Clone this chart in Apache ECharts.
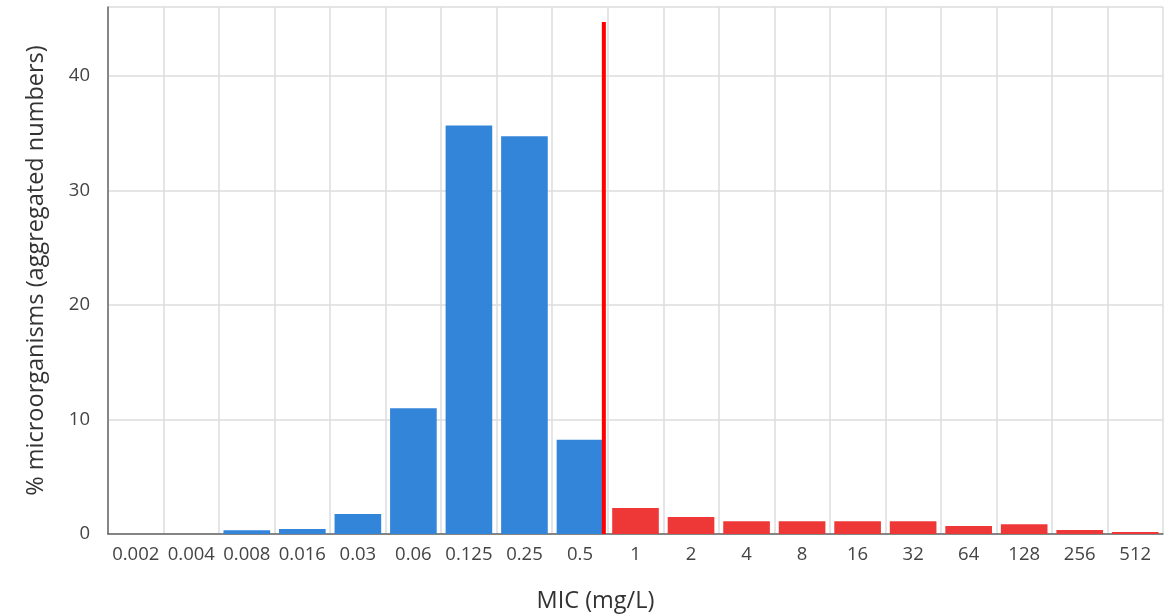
<!DOCTYPE html>
<html>
<head>
<meta charset="utf-8">
<script src="https://cdn.jsdelivr.net/npm/echarts@6/dist/echarts.min.js"></script>
<style>
html,body{margin:0;padding:0;background:#fff;}
#c{width:1174px;height:614px;}
</style>
</head>
<body>
<div id="c"></div>
<script>
const categories = ['0.002','0.004','0.008','0.016','0.03','0.06','0.125','0.25','0.5','1','2','4','8','16','32','64','128','256','512'];
const susceptible = [0, 0, 0.32, 0.44, 1.75, 10.97, 35.65, 34.72, 8.23, '-', '-', '-', '-', '-', '-', '-', '-', '-', '-'];
const resistant = ['-', '-', '-', '-', '-', '-', '-', '-', '-', 2.28, 1.49, 1.11, 1.11, 1.11, 1.11, 0.70, 0.86, 0.34, 0.17];
const breakpointPos = 8.93;   // position along the category scale
const breakpointTop = 44.7;
const yTicks = [0, 10, 20, 30, 40];

const chart = echarts.init(document.getElementById('c'), null, {renderer: 'canvas'});
const font = 'Open Sans';
chart.setOption({
  animation: false,
  backgroundColor: '#fff',
  grid: {left: 108, right: 11, top: 7, bottom: 80, show: false, containLabel: false, outerBoundsMode: 'none'},
  xAxis: [{
    type: 'category',
    data: categories,
    boundaryGap: true,
    axisLine: {show: true, lineStyle: {color: '#666', width: 1.5}},
    axisTick: {show: false},
    splitLine: {show: true, lineStyle: {color: '#dcdcdc', width: 1.5}},
    axisLabel: {color: '#444', fontFamily: font, fontSize: 18.5, margin: 11, interval: 0},
    name: 'MIC (mg/L)',
    nameLocation: 'middle',
    nameGap: 55,
    nameTextStyle: {color: '#333', fontFamily: font, fontSize: 23.5, padding: [0, 80, 0, 0]}
  }, {
    type: 'value', min: 0, max: categories.length, show: false
  }],
  yAxis: {
    type: 'value',
    min: 0,
    max: 46,
    interval: 10,
    axisLine: {show: true, lineStyle: {color: '#666', width: 1.5}},
    axisTick: {show: false},
    splitLine: {show: true, lineStyle: {color: '#dcdcdc', width: 1.5}},
    axisLabel: {color: '#444', fontFamily: font, fontSize: 18.5, margin: 18, showMaxLabel: false,
      formatter: v => yTicks.includes(v) ? String(v) : ''},
    name: '% microorganisms (aggregated numbers)',
    nameLocation: 'middle',
    nameGap: 60,
    nameTextStyle: {color: '#333', fontFamily: font, fontSize: 23.5}
  },
  series: [{
    type: 'bar', stack: 'a', data: susceptible, barCategoryGap: '16%',
    itemStyle: {color: '#3285d9'}
  }, {
    type: 'bar', stack: 'a', data: resistant, barCategoryGap: '16%',
    itemStyle: {color: '#ee3838'}
  }, {
    type: 'line', xAxisIndex: 1, z: 10, symbol: 'none',
    data: [[breakpointPos, 0], [breakpointPos, breakpointTop]],
    lineStyle: {color: '#ff0000', width: 4}
  }]
});
</script>
</body>
</html>
